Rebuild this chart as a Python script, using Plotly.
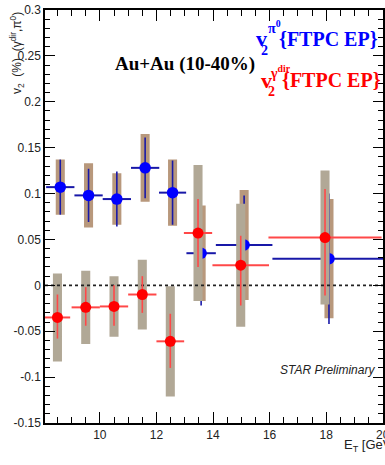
import plotly.graph_objects as go

# ---------------- data ----------------
et_pi0 = [8.6, 9.6, 10.6, 11.6, 12.57, 13.58, 15.1, 18.1]
v2_pi0 = [0.107, 0.098, 0.094, 0.128, 0.101, 0.035, 0.044, 0.029]
stat_pi0 = [0.030, 0.029, 0.030, 0.033, 0.035, 0.057, 0.054, 0.071]
sys_pi0 = [0.030, 0.035, 0.028, 0.037, 0.036, 0.052, 0.060, 0.065]
xerr_pi0 = [0.5, 0.5, 0.5, 0.5, 0.48, 0.52, 1.0, 2.0]

et_gam = [8.5, 9.5, 10.5, 11.5, 12.49, 13.47, 14.98, 17.96]
v2_gam = [-0.035, -0.024, -0.023, -0.010, -0.061, 0.057, 0.022, 0.052]
stat_up_gam = [0.025, 0.022, 0.023, 0.020, 0.030, 0.037, 0.032, 0.053]
stat_dn_gam = [0.023, 0.020, 0.021, 0.020, 0.029, 0.037, 0.044, 0.063]
sys_gam = [0.048, 0.040, 0.033, 0.038, 0.060, 0.074, 0.067, 0.073]
xerr_gam = [0.45, 0.5, 0.5, 0.5, 0.49, 0.5, 1.0, 2.0]

y_tick_vals = [-0.15, -0.1, -0.05, 0, 0.05, 0.1, 0.15, 0.2, 0.25, 0.3]
y_tick_text = ["-0.15", "-0.1", "-0.05", "0", "0.05", "0.1", "0.15", "0.2", "0.25", "0.3"]
x_tick_vals = [10, 12, 14, 16, 18, 20]
x_tick_text = ["10", "12", "14", "16", "18", "20"]

X_RANGE = [8.06, 20.01]
Y_RANGE = [-0.15, 0.3]

# ---------------- styles ----------------
BLUE = "#0000ff"
BLUE_ERR = "#1818a8"
RED = "#ff0000"
RED_ERR = "#ff4848"
BROWN = "#b8987c"
GRAY = "#b1a896"
BOX_HW = 0.16


def box_path(xs, ys, ss, hw):
    bx, by = [], []
    for x, y, s in zip(xs, ys, ss):
        bx += [x - hw, x + hw, x + hw, x - hw, x - hw, None]
        by += [y - s, y - s, y + s, y + s, y - s, None]
    return bx, by


fig = go.Figure()

# pi0 systematic boxes
bx, by = box_path(et_pi0, v2_pi0, sys_pi0, BOX_HW)
fig.add_trace(go.Scatter(x=bx, y=by, mode="lines", fill="toself", fillcolor=BROWN,
                         line=dict(width=0, color=BROWN), hoverinfo="skip", showlegend=False))

# pi0 points
fig.add_trace(go.Scatter(
    x=et_pi0, y=v2_pi0, mode="markers",
    marker=dict(symbol="circle", size=11.5, color=BLUE, line=dict(width=0)),
    error_y=dict(type="data", array=stat_pi0, color=BLUE_ERR, thickness=1.6, width=0),
    error_x=dict(type="data", array=xerr_pi0, color=BLUE_ERR, thickness=2, width=0),
    hoverinfo="skip", showlegend=False))

# gamma systematic boxes
bx, by = box_path(et_gam, v2_gam, sys_gam, BOX_HW)
fig.add_trace(go.Scatter(x=bx, y=by, mode="lines", fill="toself", fillcolor=GRAY,
                         line=dict(width=0, color=GRAY), hoverinfo="skip", showlegend=False))

# zero line
fig.add_trace(go.Scatter(x=X_RANGE, y=[0, 0], mode="lines",
                         line=dict(color="#222222", width=1.6, dash="dot"),
                         hoverinfo="skip", showlegend=False))

# gamma points
fig.add_trace(go.Scatter(
    x=et_gam, y=v2_gam, mode="markers",
    marker=dict(symbol="circle", size=11, color=RED, line=dict(width=0)),
    error_y=dict(type="data", symmetric=False, array=stat_up_gam, arrayminus=stat_dn_gam,
                 color=RED_ERR, thickness=1.6, width=0),
    error_x=dict(type="data", array=xerr_gam, color=RED_ERR, thickness=2, width=0),
    hoverinfo="skip", showlegend=False))

axis_common = dict(
    showline=True, linecolor="black", linewidth=1.5, mirror="ticks",
    ticks="inside", tickcolor="black", tickwidth=1.3,
    showgrid=False, zeroline=False, ticklabeloverflow="allow", automargin=False,
    tickfont=dict(family="Liberation Sans", size=12, color="#222222"),
)

fig.update_xaxes(range=X_RANGE, tickmode="array", tickvals=x_tick_vals, ticktext=x_tick_text,
                 ticklen=11,
                 minor=dict(ticks="inside", ticklen=6, dtick=0.5, tick0=0, tickcolor="black",
                            tickwidth=1.2, showgrid=False),
                 **axis_common)
fig.update_yaxes(range=Y_RANGE, tickmode="array", tickvals=y_tick_vals, ticktext=y_tick_text,
                 ticklen=10,
                 minor=dict(ticks="inside", ticklen=5, dtick=0.01, tick0=0, tickcolor="black",
                            tickwidth=1.2, showgrid=False),
                 **axis_common)

L, R, T, B = 45, 2, 10, 42
W, H = 385, 465
PW, PH = W - L - R, H - T - B


def px(p):
    return (p - L) / PW


def py(p):
    return 1 - (p - T) / PH


serif = "Liberation Serif"
ann = []
ann.append(dict(text="<b>Au+Au (10-40%)</b>", x=px(185), y=py(64), xanchor="center", yanchor="middle",
                font=dict(family=serif, size=19, color="black")))
# blue label
ann.append(dict(text="<b>{FTPC EP}</b>", x=px(277), y=py(39), xanchor="left", yanchor="middle",
                font=dict(family=serif, size=20, color=BLUE)))
ann.append(dict(text="<b>v</b>", x=px(269), y=py(39), xanchor="right", yanchor="middle",
                font=dict(family=serif, size=22, color=BLUE)))
ann.append(dict(text="<b>2</b>", x=px(259), y=py(50), xanchor="left", yanchor="middle",
                font=dict(family=serif, size=14, color=BLUE)))
ann.append(dict(text="<b>π<sup>0</sup></b>", x=px(266), y=py(27), xanchor="left", yanchor="middle",
                font=dict(family=serif, size=14, color=BLUE)))
# red label
ann.append(dict(text="<b>{FTPC EP}</b>", x=px(280), y=py(80), xanchor="left", yanchor="middle",
                font=dict(family=serif, size=20, color=RED)))
ann.append(dict(text="<b>v</b>", x=px(274), y=py(80), xanchor="right", yanchor="middle",
                font=dict(family=serif, size=22, color=RED)))
ann.append(dict(text="<b>2</b>", x=px(266), y=py(91), xanchor="left", yanchor="middle",
                font=dict(family=serif, size=14, color=RED)))
ann.append(dict(text="<b>γ<sup>dir</sup></b>", x=px(268), y=py(72), xanchor="left", yanchor="middle",
                font=dict(family=serif, size=14, color=RED)))
# STAR preliminary
ann.append(dict(text="<i>STAR Preliminary</i>", x=px(377), y=py(370), xanchor="right", yanchor="middle",
                font=dict(family="Liberation Sans", size=12, color="#222222")))
# axis titles
ann.append(dict(text="v<sub>2</sub>\u00a0 (%)\u00a0 (γ<sup>dir</sup>,π<sup>0</sup>)", x=px(17), y=py(10),
                xanchor="center", yanchor="top", textangle=-90,
                font=dict(family="Liberation Sans", size=12, color="#222222")))
ann.append(dict(text="E<sub>T</sub> [GeV]", x=px(342), y=py(446), xanchor="left", yanchor="middle",
                font=dict(family="Liberation Sans", size=13, color="#222222")))

for a in ann:
    a.update(xref="paper", yref="paper", showarrow=False)

fig.update_layout(
    width=W, height=H,
    margin=dict(l=L, r=R, t=T, b=B, autoexpand=False),
    paper_bgcolor="white", plot_bgcolor="white",
    annotations=ann,
    showlegend=False,
)

fig.write_html("out.html", config={"displayModeBar": False},
               post_script="document.body.style.margin='0px';document.body.style.overflow='hidden';")
